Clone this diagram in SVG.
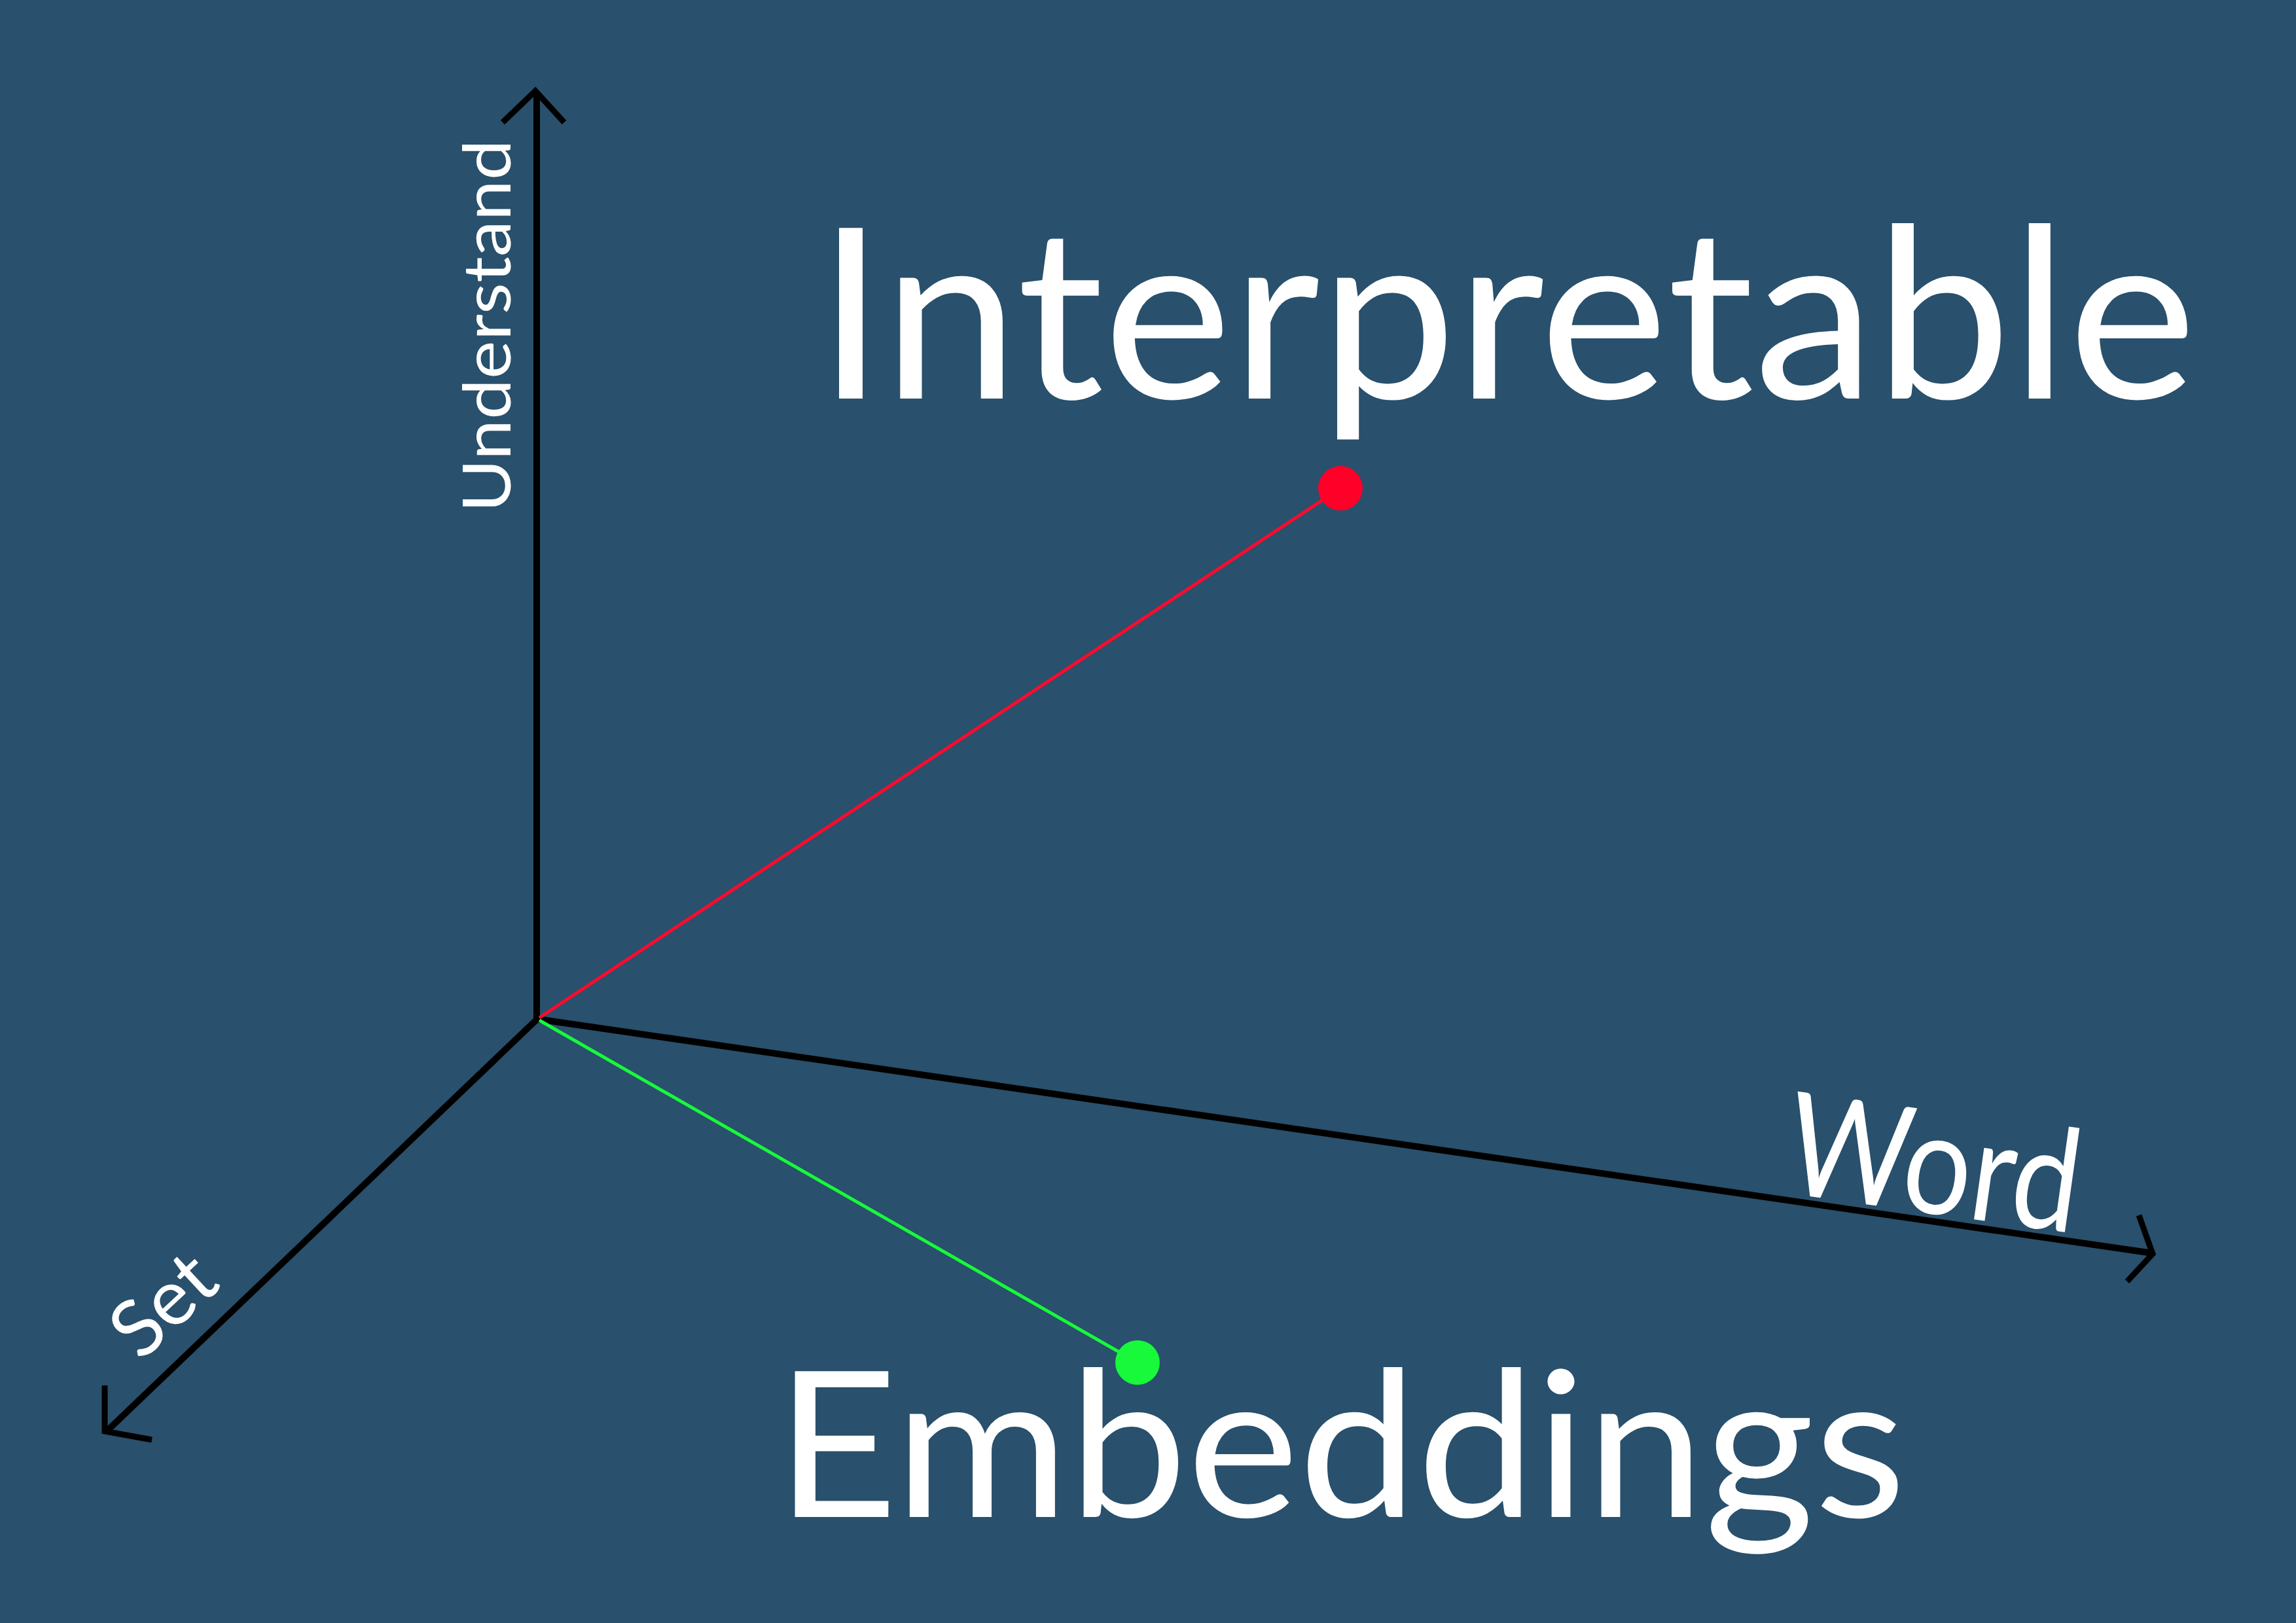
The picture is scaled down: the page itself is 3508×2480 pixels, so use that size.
<svg xmlns="http://www.w3.org/2000/svg" width="3508" height="2480" viewBox="0 0 3508 2480">
<style>
.axis{stroke:#000;stroke-width:10;fill:none;stroke-linecap:butt;stroke-linejoin:miter}
.head{stroke:#000;stroke-width:9;fill:none;stroke-linejoin:miter}
.lbl{font-family:Lato,"Liberation Sans",sans-serif;fill:#fff}
</style>
<rect width="3508" height="2480" fill="#29506c"/>
<g id="connectors">
<line class="axis" x1="820" y1="1560" x2="820" y2="140"/>
<polyline class="head" points="768,187 818,139 862,187"/>
<line class="axis" x1="820" y1="1557" x2="3289" y2="1915"/>
<polyline class="head" points="3268,1857 3289,1916 3250,1958"/>
<line class="axis" x1="822" y1="1556" x2="164" y2="2186"/>
<polyline class="head" points="160,2117 160,2187 232,2200"/>
<line x1="824" y1="1555" x2="2048" y2="746" stroke="#ff0a2d" stroke-width="5"/>
<line x1="824" y1="1559" x2="1738" y2="2082" stroke="#17f93a" stroke-width="5"/>
</g>
<g id="point-interpretable"><circle cx="2048" cy="746" r="34" fill="#ff0029"/></g>
<g id="point-embeddings"><circle cx="1738" cy="2082" r="34" fill="#17f93a"/></g>
<g id="label-interpretable"><text class="lbl" x="1248" y="609" font-size="364" textLength="2108" lengthAdjust="spacingAndGlyphs">Interpretable</text></g>
<g id="label-embeddings"><text class="lbl" x="1185" y="2318" font-size="311" textLength="1727" lengthAdjust="spacingAndGlyphs">Embeddings</text></g>
<g id="label-understand"><text class="lbl" transform="translate(780,783) rotate(-90)" font-size="101" textLength="570" lengthAdjust="spacingAndGlyphs">Understand</text></g>
<g id="label-word"><text class="lbl" transform="translate(2722,1822) rotate(8)" font-size="218" textLength="450" lengthAdjust="spacingAndGlyphs">Word</text></g>
<g id="label-set"><text class="lbl" transform="translate(215,2082) rotate(-43)" font-size="120">Set</text></g>
</svg>
